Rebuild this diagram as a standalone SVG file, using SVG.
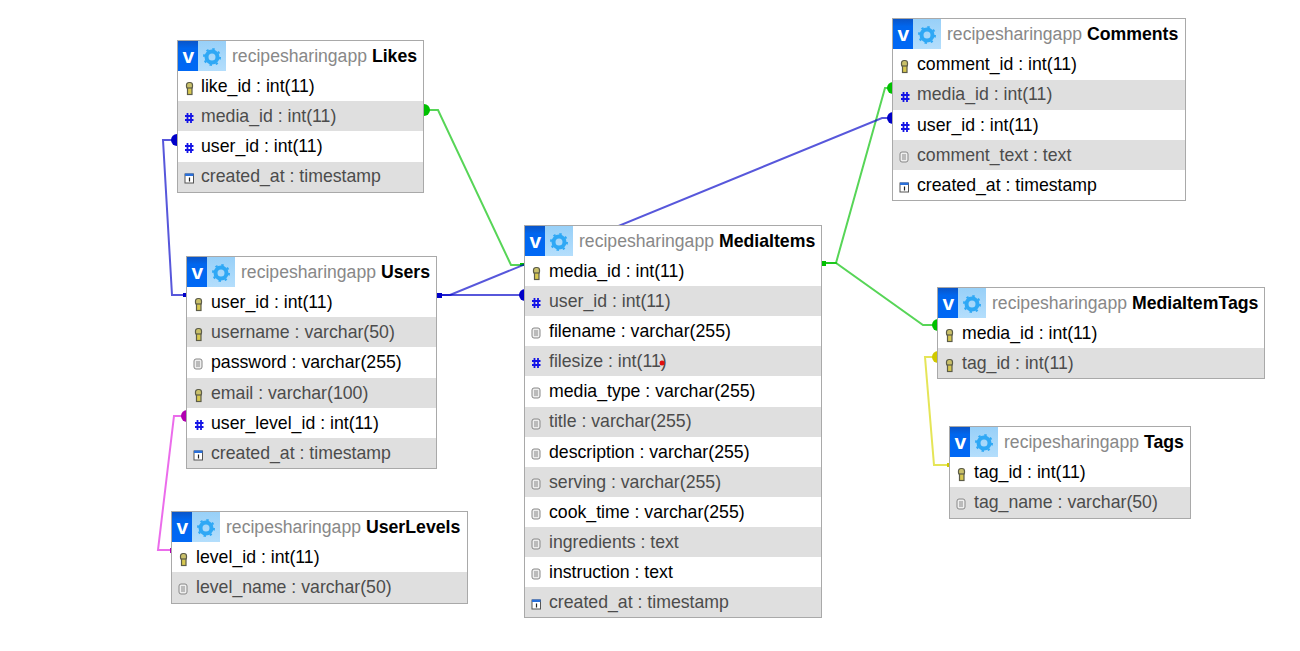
<svg xmlns="http://www.w3.org/2000/svg" xmlns:xlink="http://www.w3.org/1999/xlink" width="1300" height="651" viewBox="0 0 1300 651">
<style>
text{font-family:"Liberation Sans",Arial,sans-serif;font-size:17.7px;fill:#000}
.frame{fill:#fff;stroke:#a9a9a9;stroke-width:1}
.alt{fill:#dfdfdf}
.db{fill:#888;font-size:17.6px}
.tn{font-weight:bold;font-size:17.7px}
.g{fill:#4c4c4c}
.line{fill:none;stroke-width:2;stroke-opacity:.66}
.vt{font-weight:bold;font-size:21px;fill:#fff}
</style>
<defs>
<linearGradient id="vb" x1="0" y1="0" x2="0" y2="1"><stop offset="0" stop-color="#0a55c8"/><stop offset=".25" stop-color="#0066ee"/><stop offset="1" stop-color="#0068f5"/></linearGradient>
<linearGradient id="gb" x1="0" y1="0" x2="0" y2="1"><stop offset="0" stop-color="#98d0f8"/><stop offset="1" stop-color="#b4defc"/></linearGradient>
<symbol id="hdr" overflow="visible" width="48" height="30">
<rect x="0" y="0" width="48" height="30" fill="url(#gb)"/>
<rect x="0" y="0" width="20" height="30" fill="url(#vb)"/>
<text x="4.500" y="22" class="vt">v</text>
<circle cx="34" cy="16" r="5.500" fill="none" stroke="#2fa8f5" stroke-width="4"/>
<circle cx="34" cy="16" r="8" fill="none" stroke="#2fa8f5" stroke-width="2" stroke-dasharray="2.400 3.900"/>
</symbol>
<symbol id="key" overflow="visible" width="10" height="12">
<rect x="1.500" y="0.500" width="6" height="6.500" rx="2.500" fill="#c9c06a" stroke="#5c5c48" stroke-width="1.200"/>
<rect x="2.500" y="6" width="4.500" height="6.500" fill="#d8c850" stroke="#5c5c48" stroke-width="1.200"/>
</symbol>
<symbol id="hash" overflow="visible" width="10" height="12">
<path d="M3.500 1V11M7 1V11M1 4H9.500M1 8H9.500" stroke="#1414e6" stroke-width="1.800" fill="none"/>
</symbol>
<symbol id="txt" overflow="visible" width="10" height="12">
<rect x="1" y="1" width="8" height="10" rx="2" fill="#eee" stroke="#888" stroke-width="1"/>
<path d="M3 4H7M3 6H7M3 8H7" stroke="#888" stroke-width="1"/>
</symbol>
<symbol id="cal" overflow="visible" width="10" height="12">
<rect x="1" y="2" width="8.500" height="9" fill="#fff" stroke="#555" stroke-width="1"/>
<rect x="1" y="1.500" width="8.500" height="2.500" fill="#2a6fd8"/>
<path d="M5.500 5.500V9.500" stroke="#222" stroke-width="1.200"/>
</symbol>
</defs>
<rect width="1300" height="651" fill="#fff"/>

<g id="connectors">
<g stroke="#00c000" fill="#00c000">
<path class="line" d="M821 263H836L885 88H893"/>
<path class="line" d="M821 263H836L923 325H938"/>
<path class="line" d="M525 265H511L438 110H424"/>
<rect x="821" y="261" width="5" height="5" stroke="none"/>
<rect x="520" y="263" width="5" height="3" stroke="none"/>
<path d="M893 82A6 6 0 0 0 893 94Z" stroke="none"/>
<path d="M938 319A6 6 0 0 0 938 331Z" stroke="none"/>
<path d="M424 104A6 6 0 0 1 424 116Z" stroke="none"/>
</g>
<g stroke="#0000c8" fill="#0000c8">
<path class="line" d="M438 295H450L882 118H893"/>
<path class="line" d="M438 295H525"/>
<path class="line" d="M186 295H172L163 140H177"/>
<rect x="437" y="293" width="5" height="5" stroke="none"/>
<rect x="183" y="293" width="4" height="4" stroke="none"/>
<path d="M525 289A6 6 0 0 0 525 301Z" stroke="none"/>
<path d="M177 134A6 6 0 0 0 177 146Z" stroke="none"/>
<path d="M893 112A6 6 0 0 0 893 124Z" stroke="none"/>
</g>
<g stroke="#e000d8" fill="#b000b0">
<path class="line" stroke="#e020e0" d="M172 550H158L174 416H186"/>
<rect x="170" y="548" width="2" height="5" stroke="none"/>
<path d="M187 410A6 6 0 0 0 187 422Z" stroke="none"/>
</g>
<g stroke="#d8d800" fill="#d0c800">
<path class="line" d="M950 465H934L925 357H938"/>
<rect x="947" y="463" width="3" height="4" stroke="none"/>
<path d="M938 351A6 6 0 0 0 938 363Z" stroke="none"/>
</g>
</g>

<g id="Likes">
<rect class="frame" x="177.500" y="40.500" width="246" height="152"/>
<rect class="alt" x="178" y="101" width="245" height="30"/>
<rect class="alt" x="178" y="162" width="245" height="30"/>
<use href="#hdr" x="178" y="41"/>
<text x="232" y="62"><tspan class="db">recipesharingapp</tspan> <tspan class="tn">Likes</tspan></text>
<use href="#key" x="185" y="82"/><text x="201" y="92">like_id : int(11)</text>
<use href="#hash" x="184" y="112"/><text x="201" y="122" class="g">media_id : int(11)</text>
<use href="#hash" x="184" y="142"/><text x="201" y="152">user_id : int(11)</text>
<use href="#cal" x="184" y="172"/><text x="201" y="182" class="g">created_at : timestamp</text>
</g>

<g id="Users">
<rect class="frame" x="186.500" y="256.500" width="250" height="212"/>
<rect class="alt" x="187" y="317" width="249" height="30"/>
<rect class="alt" x="187" y="378" width="249" height="30"/>
<rect class="alt" x="187" y="438" width="249" height="30"/>
<use href="#hdr" x="187" y="257"/>
<text x="241" y="278"><tspan class="db">recipesharingapp</tspan> <tspan class="tn">Users</tspan></text>
<use href="#key" x="194" y="298"/><text x="211" y="308">user_id : int(11)</text>
<use href="#key" x="194" y="328"/><text x="211" y="338" class="g">username : varchar(50)</text>
<use href="#txt" x="193" y="358"/><text x="211" y="368">password : varchar(255)</text>
<use href="#key" x="194" y="389"/><text x="211" y="399" class="g">email : varchar(100)</text>
<use href="#hash" x="194" y="419"/><text x="211" y="429">user_level_id : int(11)</text>
<use href="#cal" x="193" y="449"/><text x="211" y="459" class="g">created_at : timestamp</text>
</g>

<g id="UserLevels">
<rect class="frame" x="171.500" y="511.500" width="296" height="92"/>
<rect class="alt" x="172" y="572" width="295" height="31"/>
<use href="#hdr" x="172" y="512"/>
<text x="226" y="533"><tspan class="db">recipesharingapp</tspan> <tspan class="tn">UserLevels</tspan></text>
<use href="#key" x="179" y="553"/><text x="196" y="563">level_id : int(11)</text>
<use href="#txt" x="178" y="583"/><text x="196" y="593" class="g">level_name : varchar(50)</text>
</g>

<g id="MediaItems">
<rect class="frame" x="524.500" y="225.500" width="297" height="392"/>
<rect class="alt" x="525" y="286" width="296" height="30"/>
<rect class="alt" x="525" y="346" width="296" height="30"/>
<rect class="alt" x="525" y="407" width="296" height="30"/>
<rect class="alt" x="525" y="467" width="296" height="30"/>
<rect class="alt" x="525" y="527" width="296" height="30"/>
<rect class="alt" x="525" y="587" width="296" height="30"/>
<use href="#hdr" x="525" y="226"/>
<text x="579" y="247"><tspan class="db">recipesharingapp</tspan> <tspan class="tn">MediaItems</tspan></text>
<use href="#key" x="532" y="267"/><text x="549" y="277">media_id : int(11)</text>
<use href="#hash" x="531" y="297"/><text x="549" y="307" class="g">user_id : int(11)</text>
<use href="#txt" x="531" y="327"/><text x="549" y="337">filename : varchar(255)</text>
<use href="#hash" x="531" y="357"/><text x="549" y="367" class="g">filesize : int(11)</text>
<use href="#txt" x="531" y="387"/><text x="549" y="397">media_type : varchar(255)</text>
<use href="#txt" x="531" y="418"/><text x="549" y="427" class="g">title : varchar(255)</text>
<use href="#txt" x="531" y="448"/><text x="549" y="458">description : varchar(255)</text>
<use href="#txt" x="531" y="478"/><text x="549" y="488" class="g">serving : varchar(255)</text>
<use href="#txt" x="531" y="508"/><text x="549" y="518">cook_time : varchar(255)</text>
<use href="#txt" x="531" y="538"/><text x="549" y="548" class="g">ingredients : text</text>
<use href="#txt" x="531" y="568"/><text x="549" y="578">instruction : text</text>
<use href="#cal" x="531" y="598"/><text x="549" y="608" class="g">created_at : timestamp</text>
<circle cx="662" cy="363" r="2.500" fill="#e01010"/>
</g>

<g id="Comments">
<rect class="frame" x="892.500" y="18.500" width="293" height="182"/>
<rect class="alt" x="893" y="80" width="292" height="30"/>
<rect class="alt" x="893" y="140" width="292" height="30"/>
<use href="#hdr" x="893" y="19"/>
<text x="947" y="40"><tspan class="db">recipesharingapp</tspan> <tspan class="tn">Comments</tspan></text>
<use href="#key" x="900" y="60"/><text x="917" y="70">comment_id : int(11)</text>
<use href="#hash" x="900" y="91"/><text x="917" y="100" class="g">media_id : int(11)</text>
<use href="#hash" x="900" y="121"/><text x="917" y="131">user_id : int(11)</text>
<use href="#txt" x="899" y="151"/><text x="917" y="161" class="g">comment_text : text</text>
<use href="#cal" x="899" y="181"/><text x="917" y="191">created_at : timestamp</text>
</g>

<g id="MediaItemTags">
<rect class="frame" x="937.500" y="287.500" width="327" height="91"/>
<rect class="alt" x="938" y="348" width="326" height="30"/>
<use href="#hdr" x="938" y="288"/>
<text x="992" y="309"><tspan class="db">recipesharingapp</tspan> <tspan class="tn">MediaItemTags</tspan></text>
<use href="#key" x="945" y="329"/><text x="962" y="339">media_id : int(11)</text>
<use href="#key" x="945" y="359"/><text x="962" y="369" class="g">tag_id : int(11)</text>
</g>

<g id="Tags">
<rect class="frame" x="949.500" y="426.500" width="241" height="92"/>
<rect class="alt" x="950" y="487" width="240" height="31"/>
<use href="#hdr" x="950" y="427"/>
<text x="1004" y="448"><tspan class="db">recipesharingapp</tspan> <tspan class="tn">Tags</tspan></text>
<use href="#key" x="957" y="468"/><text x="974" y="478">tag_id : int(11)</text>
<use href="#txt" x="956" y="498"/><text x="974" y="508" class="g">tag_name : varchar(50)</text>
</g>
</svg>
